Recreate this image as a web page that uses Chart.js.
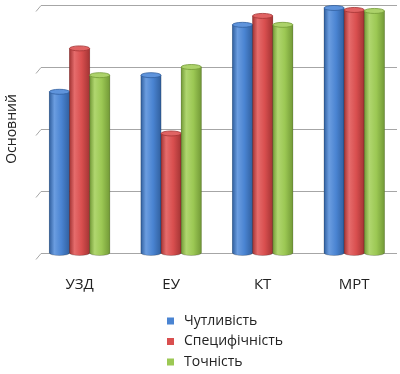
<!DOCTYPE html>
<html>
<head>
<meta charset="utf-8">
<script src="https://cdn.jsdelivr.net/npm/chart.js@4"></script>
<style>
  html, body { margin: 0; padding: 0; background: #fff; }
</style>
</head>
<body>
<canvas id="chart" width="400" height="374"></canvas>
<script>
const categories = ["УЗД", "ЕУ", "КТ", "МРТ"]
const sensitivity = [65, 71.7, 92, 98.8]
const specificity = [82.5, 48.2, 95.6, 98]
const accuracy = [71.7, 75, 92, 97.6]
const seriesNames = ["Чутливість", "Специфічність", "Точність"]
const yTicks = [0, 25, 50, 75, 100]
const axisTitle = "Основний"

const palette = [
  { base: "#4a84d2", light: "#6b9de0", dark: "#31609f", top: "#5f94dc" },
  { base: "#d94f4f", light: "#e56c6c", dark: "#a33434", top: "#e06363" },
  { base: "#9cc854", light: "#b0d66f", dark: "#739a37", top: "#acd26a" }
]

// grid lines with the little slanted foot on the left
const gridPlugin = {
  id: "slantGrid",
  beforeDatasetsDraw(chart) {
    const ctx = chart.ctx
    const ys = chart.scales.y
    ctx.save()
    ctx.strokeStyle = "#a6a6a6"
    ctx.lineWidth = 1
    yTicks.forEach(v => {
      const y = Math.round(ys.getPixelForValue(v)) + 0.5
      ctx.beginPath()
      ctx.moveTo(36, y + 6)
      ctx.lineTo(41, y)
      ctx.lineTo(397, y)
      ctx.stroke()
    })
    ctx.restore()
  }
}

// paint bars as cylinders
const cylinderPlugin = {
  id: "cylinder",
  afterDatasetsDraw(chart) {
    const ctx = chart.ctx
    chart.data.datasets.forEach((ds, di) => {
      const meta = chart.getDatasetMeta(di)
      const col = palette[di]
      meta.data.forEach(bar => {
        const { x, y, base, width } = bar.getProps(["x", "y", "base", "width"], true)
        const l = x - width / 2, r = x + width / 2
        const ry = 2.5
        const g = ctx.createLinearGradient(l, 0, r, 0)
        g.addColorStop(0, col.dark)
        g.addColorStop(0.25, col.light)
        g.addColorStop(0.6, col.base)
        g.addColorStop(1, col.dark)
        ctx.save()
        ctx.fillStyle = g
        ctx.beginPath()
        ctx.moveTo(l, y)
        ctx.lineTo(l, base)
        ctx.ellipse(x, base, width / 2, ry, 0, Math.PI, 0, true)
        ctx.lineTo(r, y)
        ctx.closePath()
        ctx.fill()
        ctx.strokeStyle = "rgba(0,0,0,0.25)"
        ctx.lineWidth = 0.8
        ctx.stroke()
        // top cap
        ctx.beginPath()
        ctx.ellipse(x, y, width / 2, ry, 0, 0, Math.PI * 2)
        ctx.fillStyle = col.top
        ctx.fill()
        ctx.strokeStyle = col.dark
        ctx.stroke()
        ctx.restore()
      })
    })
  }
}

// vertical legend under the axis
const legendPlugin = {
  id: "vLegend",
  afterDraw(chart) {
    const ctx = chart.ctx
    ctx.save()
    ctx.font = "14px 'Open Sans'"
    ctx.textBaseline = "middle"
    chart.data.datasets.forEach((ds, i) => {
      const y = 321 + i * 20.5
      ctx.fillStyle = palette[i].base
      ctx.fillRect(167, y - 3.5, 7, 7)
      ctx.fillStyle = "#222"
      ctx.fillText(ds.label, 184, y)
    })
    ctx.restore()
  }
}

new Chart(document.getElementById("chart"), {
  type: "bar",
  data: {
    labels: categories,
    datasets: [
      { label: seriesNames[0], data: sensitivity, backgroundColor: palette[0].base },
      { label: seriesNames[1], data: specificity, backgroundColor: palette[1].base },
      { label: seriesNames[2], data: accuracy, backgroundColor: palette[2].base }
    ]
  },
  options: {
    responsive: false,
    animation: false,
    layout: { padding: { top: 5, left: 0, right: 0, bottom: 57 } },
    datasets: { bar: { barPercentage: 1.0, categoryPercentage: 0.66, borderWidth: 0 } },
    plugins: { legend: { display: false }, tooltip: { enabled: false } },
    scales: {
      x: {
        grid: { display: false, drawTicks: false },
        border: { display: false },
        ticks: { color: "#222", font: { family: "Open Sans", size: 15 }, padding: 23 }
      },
      y: {
        min: 0,
        max: 100,
        afterBuildTicks: s => { s.ticks = yTicks.map(v => ({ value: v })) },
        grid: { display: false, drawTicks: false },
        border: { display: false },
        ticks: { display: false },
        title: {
          display: true,
          text: axisTitle,
          color: "#222",
          font: { family: "Open Sans", size: 14 },
          padding: { top: 4, bottom: 13 }
        }
      }
    }
  },
  plugins: [gridPlugin, cylinderPlugin, legendPlugin]
})
</script>
</body>
</html>
